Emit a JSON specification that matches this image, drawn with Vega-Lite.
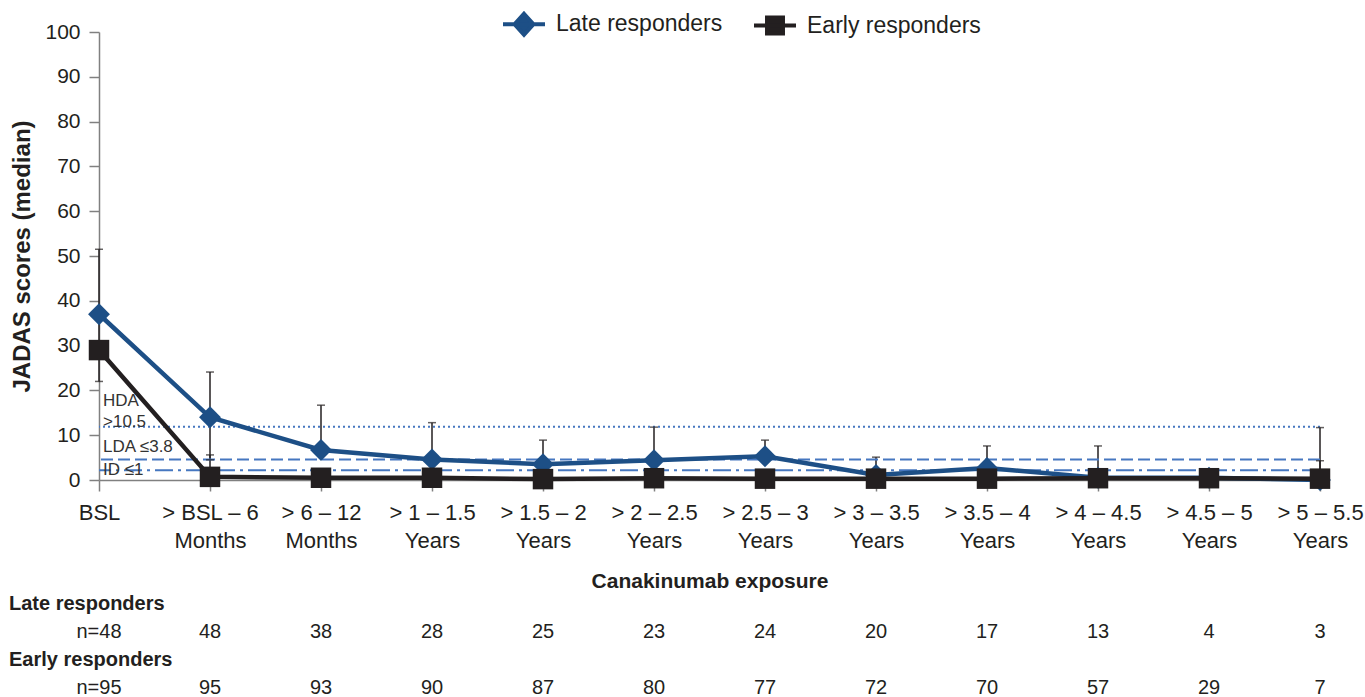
{
  "$schema": "https://vega.github.io/schema/vega-lite/v6.json",
  "padding": {"left": 9, "top": 1, "right": 0, "bottom": 0},
  "background": "white",
  "config": {"font": "Liberation Sans", "view": {"stroke": null}},
  "spacing": 0,
  "datasets": {
    "series": [
      {"cat": "BSL", "series": "Late responders", "value": 37},
      {"cat": "> BSL – 6|Months", "series": "Late responders", "value": 14},
      {"cat": "> 6 – 12|Months", "series": "Late responders", "value": 6.7},
      {"cat": "> 1 – 1.5|Years", "series": "Late responders", "value": 4.6},
      {"cat": "> 1.5 – 2|Years", "series": "Late responders", "value": 3.5},
      {"cat": "> 2 – 2.5|Years", "series": "Late responders", "value": 4.4},
      {"cat": "> 2.5 – 3|Years", "series": "Late responders", "value": 5.3},
      {"cat": "> 3 – 3.5|Years", "series": "Late responders", "value": 1.1},
      {"cat": "> 3.5 – 4|Years", "series": "Late responders", "value": 2.7},
      {"cat": "> 4 – 4.5|Years", "series": "Late responders", "value": 0.5},
      {"cat": "> 4.5 – 5|Years", "series": "Late responders", "value": 0.5},
      {"cat": "> 5 – 5.5|Years", "series": "Late responders", "value": 0},
      {"cat": "BSL", "series": "Early responders", "value": 29},
      {"cat": "> BSL – 6|Months", "series": "Early responders", "value": 0.7},
      {"cat": "> 6 – 12|Months", "series": "Early responders", "value": 0.5},
      {"cat": "> 1 – 1.5|Years", "series": "Early responders", "value": 0.5},
      {"cat": "> 1.5 – 2|Years", "series": "Early responders", "value": 0.2},
      {"cat": "> 2 – 2.5|Years", "series": "Early responders", "value": 0.4},
      {"cat": "> 2.5 – 3|Years", "series": "Early responders", "value": 0.3},
      {"cat": "> 3 – 3.5|Years", "series": "Early responders", "value": 0.3},
      {"cat": "> 3.5 – 4|Years", "series": "Early responders", "value": 0.3},
      {"cat": "> 4 – 4.5|Years", "series": "Early responders", "value": 0.4},
      {"cat": "> 4.5 – 5|Years", "series": "Early responders", "value": 0.4},
      {"cat": "> 5 – 5.5|Years", "series": "Early responders", "value": 0.3}
    ],
    "errors": [
      {"cat": "BSL", "series": "Late responders", "low": 22, "high": 51.5, "lowcap": true},
      {"cat": "> BSL – 6|Months", "series": "Late responders", "low": 4.5, "high": 24.1, "lowcap": true},
      {"cat": "> 6 – 12|Months", "series": "Late responders", "low": 6.7, "high": 16.7, "lowcap": false},
      {"cat": "> 1 – 1.5|Years", "series": "Late responders", "low": 4.6, "high": 12.8, "lowcap": false},
      {"cat": "> 1.5 – 2|Years", "series": "Late responders", "low": 3.5, "high": 8.9, "lowcap": false},
      {"cat": "> 2 – 2.5|Years", "series": "Late responders", "low": 4.4, "high": 11.8, "lowcap": false},
      {"cat": "> 2.5 – 3|Years", "series": "Late responders", "low": 5.3, "high": 8.9, "lowcap": false},
      {"cat": "> 3 – 3.5|Years", "series": "Late responders", "low": 1.1, "high": 5.1, "lowcap": false},
      {"cat": "> 3.5 – 4|Years", "series": "Late responders", "low": 2.7, "high": 7.6, "lowcap": false},
      {"cat": "> 4 – 4.5|Years", "series": "Late responders", "low": 0.5, "high": 7.6, "lowcap": false},
      {"cat": "> 4.5 – 5|Years", "series": "Late responders", "low": 0.5, "high": 2.4, "lowcap": false},
      {"cat": "> 5 – 5.5|Years", "series": "Late responders", "low": 0, "high": 11.7, "lowcap": false},
      {"cat": "> BSL – 6|Months", "series": "Early responders", "low": 0.7, "high": 5.6, "lowcap": false},
      {"cat": "> 5 – 5.5|Years", "series": "Early responders", "low": 0.3, "high": 4.3, "lowcap": false}
    ],
    "thresholds": [
      {"kind": "HDA", "value": 11.9, "cat": "BSL", "label": ["HDA", ">10.5"]},
      {"kind": "LDA", "value": 4.6, "cat": "BSL", "label": "LDA ≤3.8"},
      {"kind": "ID", "value": 2.2, "cat": "BSL", "label": "ID ≤1"}
    ],
    "table": [
      {"row": "Late responders", "cat": "BSL", "text": "Late responders", "header": true},
      {"row": "Late n", "cat": "BSL", "text": "n=48", "header": false},
      {"row": "Late n", "cat": "> BSL – 6|Months", "text": "48", "header": false},
      {"row": "Late n", "cat": "> 6 – 12|Months", "text": "38", "header": false},
      {"row": "Late n", "cat": "> 1 – 1.5|Years", "text": "28", "header": false},
      {"row": "Late n", "cat": "> 1.5 – 2|Years", "text": "25", "header": false},
      {"row": "Late n", "cat": "> 2 – 2.5|Years", "text": "23", "header": false},
      {"row": "Late n", "cat": "> 2.5 – 3|Years", "text": "24", "header": false},
      {"row": "Late n", "cat": "> 3 – 3.5|Years", "text": "20", "header": false},
      {"row": "Late n", "cat": "> 3.5 – 4|Years", "text": "17", "header": false},
      {"row": "Late n", "cat": "> 4 – 4.5|Years", "text": "13", "header": false},
      {"row": "Late n", "cat": "> 4.5 – 5|Years", "text": "4", "header": false},
      {"row": "Late n", "cat": "> 5 – 5.5|Years", "text": "3", "header": false},
      {"row": "Early responders", "cat": "BSL", "text": "Early responders", "header": true},
      {"row": "Early n", "cat": "BSL", "text": "n=95", "header": false},
      {"row": "Early n", "cat": "> BSL – 6|Months", "text": "95", "header": false},
      {"row": "Early n", "cat": "> 6 – 12|Months", "text": "93", "header": false},
      {"row": "Early n", "cat": "> 1 – 1.5|Years", "text": "90", "header": false},
      {"row": "Early n", "cat": "> 1.5 – 2|Years", "text": "87", "header": false},
      {"row": "Early n", "cat": "> 2 – 2.5|Years", "text": "80", "header": false},
      {"row": "Early n", "cat": "> 2.5 – 3|Years", "text": "77", "header": false},
      {"row": "Early n", "cat": "> 3 – 3.5|Years", "text": "72", "header": false},
      {"row": "Early n", "cat": "> 3.5 – 4|Years", "text": "70", "header": false},
      {"row": "Early n", "cat": "> 4 – 4.5|Years", "text": "57", "header": false},
      {"row": "Early n", "cat": "> 4.5 – 5|Years", "text": "29", "header": false},
      {"row": "Early n", "cat": "> 5 – 5.5|Years", "text": "7", "header": false}
    ]
  },
  "vconcat": [
    {
      "width": 1221,
      "height": 448,
      "layer": [
        {
          "data": {"name": "errors"},
          "mark": {"type": "rule", "color": "#231f20", "strokeWidth": 1.5},
          "encoding": {
            "x": {"field": "cat", "type": "ordinal", "title": "Canakinumab exposure",
              "scale": {"type": "point", "padding": 0, "domain": ["BSL", "> BSL – 6|Months", "> 6 – 12|Months", "> 1 – 1.5|Years", "> 1.5 – 2|Years", "> 2 – 2.5|Years", "> 2.5 – 3|Years", "> 3 – 3.5|Years", "> 3.5 – 4|Years", "> 4 – 4.5|Years", "> 4.5 – 5|Years", "> 5 – 5.5|Years"]},
              "axis": {"labelExpr": "split(datum.value, '|')", "labelAngle": 0, "labelFontSize": 22, "labelLineHeight": 28, "labelPadding": 11, "labelColor": "#231f20", "labelOverlap": false, "labelLimit": 0, "labelBound": false, "domainColor": "#808080", "tickColor": "#808080", "tickSize": 11, "domainWidth": 1.5, "tickWidth": 1.5, "titleFontSize": 21, "titleFontWeight": "bold", "titleColor": "#231f20", "titlePadding": 19}},
            "y": {"field": "low", "type": "quantitative", "title": "JADAS scores (median)",
              "scale": {"domain": [0, 100], "nice": false},
              "axis": {"values": [0, 10, 20, 30, 40, 50, 60, 70, 80, 90, 100], "grid": false, "labelFontSize": 21, "labelPadding": 9, "labelColor": "#231f20", "domainColor": "#808080", "tickColor": "#808080", "tickSize": 10, "domainWidth": 1.5, "tickWidth": 1.5, "titleFontSize": 24, "titleFontWeight": "bold", "titleColor": "#231f20", "titlePadding": 10}},
            "y2": {"field": "high"}
          }
        },
        {
          "data": {"name": "thresholds"},
          "mark": {"type": "rule", "color": "#4677c0", "strokeWidth": 2},
          "encoding": {
            "y": {"field": "value", "type": "quantitative", "title": "JADAS scores (median)", "scale": {"domain": [0, 100], "nice": false}},
            "strokeDash": {"field": "kind", "type": "nominal", "legend": null,
              "scale": {"domain": ["HDA", "LDA", "ID"], "range": [[2, 3], [12, 5], [18, 5, 3, 5]]}}
          }
        },
        {
          "data": {"name": "thresholds"},
          "transform": [{"filter": "datum.kind === 'HDA'"}],
          "mark": {"type": "text", "align": "left", "baseline": "bottom", "dx": 4, "dy": -17, "fontSize": 17, "lineHeight": 21, "color": "#333333"},
          "encoding": {
            "x": {"field": "cat", "type": "ordinal", "title": "Canakinumab exposure", "scale": {"type": "point", "padding": 0, "domain": ["BSL", "> BSL – 6|Months", "> 6 – 12|Months", "> 1 – 1.5|Years", "> 1.5 – 2|Years", "> 2 – 2.5|Years", "> 2.5 – 3|Years", "> 3 – 3.5|Years", "> 3.5 – 4|Years", "> 4 – 4.5|Years", "> 4.5 – 5|Years", "> 5 – 5.5|Years"]}},
            "y": {"field": "value", "type": "quantitative", "title": "JADAS scores (median)", "scale": {"domain": [0, 100], "nice": false}},
            "text": {"field": "label"}
          }
        },
        {
          "data": {"name": "thresholds"},
          "transform": [{"filter": "datum.kind === 'LDA'"}],
          "mark": {"type": "text", "align": "left", "baseline": "bottom", "dx": 4, "dy": -3, "fontSize": 17, "color": "#333333"},
          "encoding": {
            "x": {"field": "cat", "type": "ordinal", "title": "Canakinumab exposure", "scale": {"type": "point", "padding": 0, "domain": ["BSL", "> BSL – 6|Months", "> 6 – 12|Months", "> 1 – 1.5|Years", "> 1.5 – 2|Years", "> 2 – 2.5|Years", "> 2.5 – 3|Years", "> 3 – 3.5|Years", "> 3.5 – 4|Years", "> 4 – 4.5|Years", "> 4.5 – 5|Years", "> 5 – 5.5|Years"]}},
            "y": {"field": "value", "type": "quantitative", "title": "JADAS scores (median)", "scale": {"domain": [0, 100], "nice": false}},
            "text": {"field": "label"}
          }
        },
        {
          "data": {"name": "thresholds"},
          "transform": [{"filter": "datum.kind === 'ID'"}],
          "mark": {"type": "text", "align": "left", "baseline": "bottom", "dx": 4, "dy": 9, "fontSize": 17, "color": "#333333"},
          "encoding": {
            "x": {"field": "cat", "type": "ordinal", "title": "Canakinumab exposure", "scale": {"type": "point", "padding": 0, "domain": ["BSL", "> BSL – 6|Months", "> 6 – 12|Months", "> 1 – 1.5|Years", "> 1.5 – 2|Years", "> 2 – 2.5|Years", "> 2.5 – 3|Years", "> 3 – 3.5|Years", "> 3.5 – 4|Years", "> 4 – 4.5|Years", "> 4.5 – 5|Years", "> 5 – 5.5|Years"]}},
            "y": {"field": "value", "type": "quantitative", "title": "JADAS scores (median)", "scale": {"domain": [0, 100], "nice": false}},
            "text": {"field": "label"}
          }
        },
        {
          "data": {"name": "errors"},
          "mark": {"type": "tick", "orient": "horizontal", "size": 8, "thickness": 1.5, "color": "#231f20"},
          "encoding": {
            "x": {"field": "cat", "type": "ordinal", "title": "Canakinumab exposure", "scale": {"type": "point", "padding": 0, "domain": ["BSL", "> BSL – 6|Months", "> 6 – 12|Months", "> 1 – 1.5|Years", "> 1.5 – 2|Years", "> 2 – 2.5|Years", "> 2.5 – 3|Years", "> 3 – 3.5|Years", "> 3.5 – 4|Years", "> 4 – 4.5|Years", "> 4.5 – 5|Years", "> 5 – 5.5|Years"]}},
            "y": {"field": "high", "type": "quantitative", "title": "JADAS scores (median)", "scale": {"domain": [0, 100], "nice": false}}
          }
        },
        {
          "data": {"name": "errors"},
          "transform": [{"filter": "datum.lowcap"}],
          "mark": {"type": "tick", "orient": "horizontal", "size": 8, "thickness": 1.5, "color": "#231f20"},
          "encoding": {
            "x": {"field": "cat", "type": "ordinal", "title": "Canakinumab exposure", "scale": {"type": "point", "padding": 0, "domain": ["BSL", "> BSL – 6|Months", "> 6 – 12|Months", "> 1 – 1.5|Years", "> 1.5 – 2|Years", "> 2 – 2.5|Years", "> 2.5 – 3|Years", "> 3 – 3.5|Years", "> 3.5 – 4|Years", "> 4 – 4.5|Years", "> 4.5 – 5|Years", "> 5 – 5.5|Years"]}},
            "y": {"field": "low", "type": "quantitative", "title": "JADAS scores (median)", "scale": {"domain": [0, 100], "nice": false}}
          }
        },
        {
          "data": {"name": "series"},
          "transform": [{"filter": "datum.series === 'Late responders'"}],
          "mark": {"type": "line", "color": "#1d4f86", "strokeWidth": 4.5},
          "encoding": {
            "x": {"field": "cat", "type": "ordinal", "title": "Canakinumab exposure", "scale": {"type": "point", "padding": 0, "domain": ["BSL", "> BSL – 6|Months", "> 6 – 12|Months", "> 1 – 1.5|Years", "> 1.5 – 2|Years", "> 2 – 2.5|Years", "> 2.5 – 3|Years", "> 3 – 3.5|Years", "> 3.5 – 4|Years", "> 4 – 4.5|Years", "> 4.5 – 5|Years", "> 5 – 5.5|Years"]}},
            "y": {"field": "value", "type": "quantitative", "title": "JADAS scores (median)", "scale": {"domain": [0, 100], "nice": false}}
          }
        },
        {
          "data": {"name": "series"},
          "transform": [{"filter": "datum.series === 'Late responders'"}],
          "mark": {"type": "point", "shape": "diamond", "filled": true, "opacity": 1, "size": 480, "color": "#1d4f86"},
          "encoding": {
            "x": {"field": "cat", "type": "ordinal", "title": "Canakinumab exposure", "scale": {"type": "point", "padding": 0, "domain": ["BSL", "> BSL – 6|Months", "> 6 – 12|Months", "> 1 – 1.5|Years", "> 1.5 – 2|Years", "> 2 – 2.5|Years", "> 2.5 – 3|Years", "> 3 – 3.5|Years", "> 3.5 – 4|Years", "> 4 – 4.5|Years", "> 4.5 – 5|Years", "> 5 – 5.5|Years"]}},
            "y": {"field": "value", "type": "quantitative", "title": "JADAS scores (median)", "scale": {"domain": [0, 100], "nice": false}}
          }
        },
        {
          "data": {"name": "series"},
          "transform": [{"filter": "datum.series === 'Early responders'"}],
          "mark": {"type": "line", "color": "#231f20", "strokeWidth": 4.5},
          "encoding": {
            "x": {"field": "cat", "type": "ordinal", "title": "Canakinumab exposure", "scale": {"type": "point", "padding": 0, "domain": ["BSL", "> BSL – 6|Months", "> 6 – 12|Months", "> 1 – 1.5|Years", "> 1.5 – 2|Years", "> 2 – 2.5|Years", "> 2.5 – 3|Years", "> 3 – 3.5|Years", "> 3.5 – 4|Years", "> 4 – 4.5|Years", "> 4.5 – 5|Years", "> 5 – 5.5|Years"]}},
            "y": {"field": "value", "type": "quantitative", "title": "JADAS scores (median)", "scale": {"domain": [0, 100], "nice": false}}
          }
        },
        {
          "data": {"name": "series"},
          "transform": [{"filter": "datum.series === 'Early responders'"}],
          "mark": {"type": "point", "shape": "square", "filled": true, "opacity": 1, "size": 420, "color": "#231f20"},
          "encoding": {
            "x": {"field": "cat", "type": "ordinal", "title": "Canakinumab exposure", "scale": {"type": "point", "padding": 0, "domain": ["BSL", "> BSL – 6|Months", "> 6 – 12|Months", "> 1 – 1.5|Years", "> 1.5 – 2|Years", "> 2 – 2.5|Years", "> 2.5 – 3|Years", "> 3 – 3.5|Years", "> 3.5 – 4|Years", "> 4 – 4.5|Years", "> 4.5 – 5|Years", "> 5 – 5.5|Years"]}},
            "y": {"field": "value", "type": "quantitative", "title": "JADAS scores (median)", "scale": {"domain": [0, 100], "nice": false}}
          }
        },
        {
          "data": {"name": "series"},
          "transform": [{"filter": "false"}],
          "mark": {"type": "point", "filled": true},
          "encoding": {
            "shape": {"field": "series", "type": "nominal",
              "scale": {"domain": ["Late responders", "Early responders"], "range": ["M-1,0L1,0M0,-0.5L0.45,0L0,0.5L-0.45,0Z", "M-1,0L1,0M-0.38,-0.38L0.38,-0.38L0.38,0.38L-0.38,0.38Z"]},
              "legend": {"orient": "none", "legendX": 402, "legendY": -31, "direction": "horizontal", "title": null, "labelFontSize": 23, "labelColor": "#231f20", "labelLimit": 400, "symbolSize": 1764, "symbolStrokeWidth": 4, "symbolOpacity": 1, "labelOffset": 9, "columnPadding": 23}},
            "fill": {"field": "series", "type": "nominal", "scale": {"domain": ["Late responders", "Early responders"], "range": ["#1d4f86", "#231f20"]}},
            "stroke": {"field": "series", "type": "nominal", "scale": {"domain": ["Late responders", "Early responders"], "range": ["#1d4f86", "#231f20"]}}
          }
        }
      ]
    },
    {
      "width": 1221,
      "height": 112,
      "data": {"name": "table"},
      "layer": [
        {
          "transform": [{"filter": "datum.header"}],
          "mark": {"type": "text", "align": "left", "baseline": "middle", "dx": -90, "dy": -1, "fontSize": 20, "fontWeight": "bold", "color": "#231f20"},
          "encoding": {
            "x": {"field": "cat", "type": "ordinal", "axis": null, "scale": {"type": "point", "padding": 0, "domain": ["BSL", "> BSL – 6|Months", "> 6 – 12|Months", "> 1 – 1.5|Years", "> 1.5 – 2|Years", "> 2 – 2.5|Years", "> 2.5 – 3|Years", "> 3 – 3.5|Years", "> 3.5 – 4|Years", "> 4 – 4.5|Years", "> 4.5 – 5|Years", "> 5 – 5.5|Years"]}},
            "y": {"field": "row", "type": "ordinal", "axis": null, "scale": {"type": "band", "domain": ["Late responders", "Late n", "Early responders", "Early n"], "paddingInner": 0, "paddingOuter": 0}},
            "text": {"field": "text"}
          }
        },
        {
          "transform": [{"filter": "!datum.header"}],
          "mark": {"type": "text", "align": "center", "baseline": "middle", "dy": -1, "fontSize": 20, "color": "#231f20"},
          "encoding": {
            "x": {"field": "cat", "type": "ordinal", "axis": null, "scale": {"type": "point", "padding": 0, "domain": ["BSL", "> BSL – 6|Months", "> 6 – 12|Months", "> 1 – 1.5|Years", "> 1.5 – 2|Years", "> 2 – 2.5|Years", "> 2.5 – 3|Years", "> 3 – 3.5|Years", "> 3.5 – 4|Years", "> 4 – 4.5|Years", "> 4.5 – 5|Years", "> 5 – 5.5|Years"]}},
            "y": {"field": "row", "type": "ordinal", "axis": null, "scale": {"type": "band", "domain": ["Late responders", "Late n", "Early responders", "Early n"], "paddingInner": 0, "paddingOuter": 0}},
            "text": {"field": "text"}
          }
        }
      ]
    }
  ]
}
